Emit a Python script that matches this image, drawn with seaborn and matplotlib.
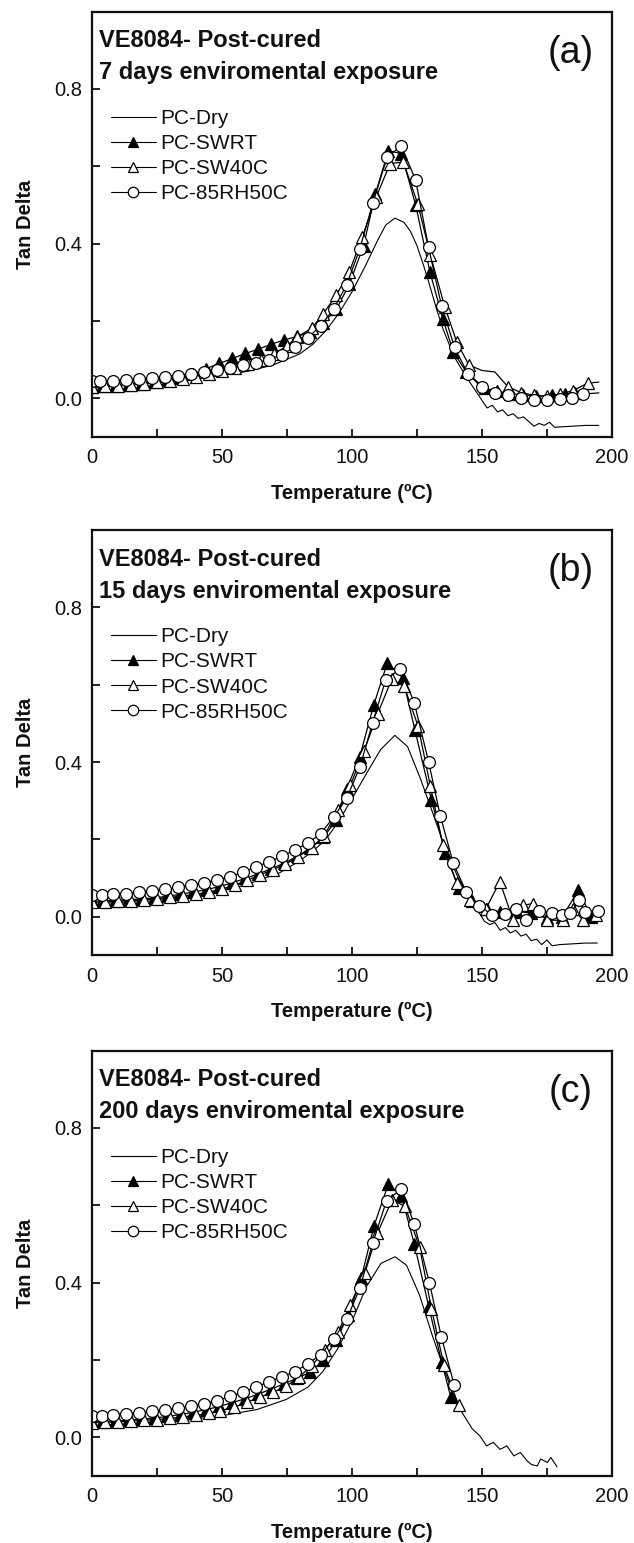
import matplotlib
matplotlib.use("Agg")
import matplotlib.pyplot as plt
from matplotlib.lines import Line2D
from matplotlib.ticker import MultipleLocator
import seaborn as sns

# ---- data ----
series_names = ["PC-Dry", "PC-SWRT", "PC-SW40C", "PC-85RH50C"]
panel_tags = ["(a)", "(b)", "(c)"]
exposure_days = ["7", "15", "200"]

# panel (a) - 7 days
dry_a_x = [0, 10, 20, 30, 40, 50, 60, 70, 80, 85, 90, 95, 100, 105, 110, 113, 116.5, 120, 122.5, 125,
           127.5, 130, 132.5, 135, 137.5, 140, 142.5, 145, 147.5, 150, 152, 154, 156, 158, 160, 162, 164,
           166, 168, 170, 172, 174, 176, 178, 180, 185, 190, 195]
dry_a_y = [0.028, 0.032, 0.037, 0.043, 0.050, 0.059, 0.070, 0.087, 0.115, 0.140, 0.175, 0.220, 0.275,
           0.340, 0.410, 0.448, 0.466, 0.455, 0.432, 0.395, 0.345, 0.29, 0.232, 0.18, 0.138, 0.1, 0.072,
           0.045, 0.02, -0.005, -0.025, -0.018, -0.035, -0.03, -0.045, -0.04, -0.052, -0.048, -0.06,
           -0.072, -0.065, -0.07, -0.062, -0.075, -0.074, -0.072, -0.07, -0.07]
swrt_a_x = [0, 4, 9, 14, 19, 24, 29, 34, 39, 44, 49, 54, 59, 64, 69, 74, 79, 84, 89, 94, 99, 104.5, 109,
            114, 119, 124.5, 130, 135, 139, 144, 151, 156, 161, 166, 171, 177, 182, 186]
swrt_a_y = [0.030, 0.031, 0.033, 0.035, 0.038, 0.042, 0.047, 0.053, 0.062, 0.077, 0.090, 0.103, 0.116,
            0.127, 0.140, 0.151, 0.160, 0.172, 0.195, 0.230, 0.295, 0.395, 0.528, 0.640, 0.633, 0.500,
            0.327, 0.205, 0.120, 0.068, 0.026, 0.018, 0.012, 0.009, 0.005, 0.009, 0.010, 0.015]
sw40_a_x = [0, 5, 10, 15, 20, 25, 30, 35, 40, 45, 50, 55, 60, 65, 70, 75, 79, 84.5, 89, 94, 99, 104,
            109.3, 114.7, 119.8, 125.3, 130.2, 135.7, 140.3, 145, 150, 155, 160, 165, 170, 175, 180, 185,
            190.7, 195]
sw40_a_y = [0.030, 0.031, 0.033, 0.035, 0.038, 0.041, 0.045, 0.050, 0.056, 0.063, 0.070, 0.078, 0.088,
            0.100, 0.115, 0.135, 0.159, 0.181, 0.219, 0.267, 0.327, 0.417, 0.520, 0.607, 0.611, 0.503,
            0.370, 0.237, 0.146, 0.086, 0.072, 0.068, 0.030, 0.015, 0.008, 0.005, 0.010, 0.020, 0.039,
            0.042]
sw40_a_lineonly = [150, 155, 195]
rh_a_x = [0, 3, 8, 13, 18, 23, 28, 33, 38, 43, 48, 53, 58, 63, 68, 73, 78, 83, 88, 93, 98, 103, 108,
          113.5, 119, 124.5, 129.5, 134.5, 139.5, 144.5, 150, 155, 160, 165, 170, 175, 180, 184.5, 189, 195]
rh_a_y = [0.046, 0.046, 0.046, 0.048, 0.050, 0.052, 0.055, 0.058, 0.063, 0.068, 0.072, 0.079, 0.085,
          0.092, 0.100, 0.113, 0.132, 0.156, 0.188, 0.231, 0.294, 0.386, 0.504, 0.623, 0.653, 0.564,
          0.390, 0.238, 0.132, 0.064, 0.028, 0.015, 0.008, 0.0, -0.005, -0.005, -0.002, 0.002, 0.011,
          0.014]
rh_a_lineonly = [195]

# panel (b) - 15 days
dry_b_x = [0, 16, 30, 44, 58, 72, 80, 85, 90, 95, 100, 106, 111, 116.5, 121.4, 126.3, 131.2, 136.1, 141,
           146.7, 151, 153, 155, 157, 159, 161, 163, 165, 167, 169, 171, 173, 175, 177, 180, 185, 190,
           194.4]
dry_b_y = [0.032, 0.040, 0.048, 0.060, 0.080, 0.113, 0.145, 0.170, 0.200, 0.248, 0.305, 0.375, 0.432,
           0.469, 0.44, 0.358, 0.266, 0.173, 0.099, 0.034, -0.012, -0.02, -0.015, -0.035, -0.028, -0.042,
           -0.035, -0.05, -0.045, -0.062, -0.058, -0.072, -0.06, -0.075, -0.072, -0.07, -0.068, -0.068]
swrt_b_x = [0, 4, 9, 14, 19, 24, 29, 34, 39, 44, 49, 54, 59, 64, 69, 74, 79, 84, 89, 94, 98, 103, 108.4,
            113.6, 119.5, 124.2, 130.6, 135.9, 141, 146, 152, 157, 163.3, 169, 174.9, 181, 187.1, 192]
swrt_b_y = [0.040, 0.041, 0.042, 0.044, 0.046, 0.049, 0.053, 0.058, 0.064, 0.070, 0.078, 0.088, 0.099,
            0.111, 0.124, 0.139, 0.156, 0.178, 0.205, 0.250, 0.330, 0.414, 0.548, 0.656, 0.618, 0.484,
            0.302, 0.164, 0.075, 0.040, 0.020, 0.012, 0.013, 0.010, -0.004, 0.0, 0.069, 0.0]
sw40_b_x = [0, 5, 10, 15, 20, 25, 30, 35, 40, 45, 50, 55, 59.6, 64.6, 69.5, 74.4, 79.3, 84.5, 89.4, 94.5,
            99.4, 104.6, 109.9, 115.3, 120.1, 125.5, 130.2, 135, 140.4, 145.4, 151.5, 156.9, 162, 166,
            169.7, 175, 181.3, 185, 189, 194]
sw40_b_y = [0.038, 0.039, 0.040, 0.042, 0.044, 0.047, 0.050, 0.054, 0.058, 0.064, 0.072, 0.082, 0.094,
            0.108, 0.122, 0.136, 0.155, 0.178, 0.210, 0.275, 0.340, 0.428, 0.525, 0.614, 0.596, 0.492,
            0.337, 0.186, 0.086, 0.043, 0.020, 0.091, -0.009, 0.030, 0.034, -0.009, -0.009, 0.020,
            -0.009, 0.005]
rh_b_x = [0, 4, 8, 13, 18, 23, 28, 33, 38, 43, 48, 53, 58, 63, 68, 73, 78, 83, 88, 93, 98, 103, 108,
          113, 118.6, 124, 129.5, 134, 139, 144, 149, 154, 159, 163, 167, 172, 177, 181, 184, 187.5,
          189.5, 194.5]
rh_b_y = [0.056, 0.056, 0.058, 0.060, 0.064, 0.067, 0.071, 0.076, 0.082, 0.088, 0.095, 0.104, 0.115,
          0.129, 0.142, 0.156, 0.173, 0.190, 0.215, 0.258, 0.307, 0.386, 0.502, 0.613, 0.641, 0.553,
          0.400, 0.261, 0.138, 0.064, 0.029, 0.004, 0.008, 0.020, -0.008, 0.015, 0.010, 0.005, 0.009,
          0.043, 0.013, 0.015]

# panel (c) - 200 days
dry_c_x = [0, 22.8, 36.8, 50.8, 63.5, 74.7, 83.1, 88.8, 94.4, 100, 105.6, 111.2, 116.6, 121, 126, 130.9,
           135.8, 140.7, 146.3, 149.2, 151.8, 154.4, 157, 159.6, 162.3, 164.8, 167.4, 169, 171.3, 172.6,
           175.2, 176.5, 178.9]
dry_c_y = [0.030, 0.037, 0.045, 0.057, 0.072, 0.098, 0.130, 0.170, 0.228, 0.300, 0.390, 0.450, 0.467,
           0.445, 0.368, 0.264, 0.169, 0.082, 0.022, 0.004, -0.022, -0.013, -0.031, -0.022, -0.048,
           -0.039, -0.061, -0.070, -0.074, -0.056, -0.065, -0.052, -0.076]
swrt_c_x = [0, 4, 9, 14, 19, 24, 29, 34, 39, 44, 49, 54, 59, 64, 69, 74, 79, 84, 89, 94, 98.6, 103.6,
            108.5, 114, 119, 124, 129.5, 134.5, 138]
swrt_c_y = [0.040, 0.041, 0.042, 0.044, 0.047, 0.050, 0.054, 0.059, 0.065, 0.072, 0.080, 0.090, 0.100,
            0.112, 0.125, 0.139, 0.153, 0.169, 0.199, 0.251, 0.317, 0.413, 0.547, 0.655, 0.625, 0.500,
            0.340, 0.195, 0.105]
sw40_c_x = [0, 5, 10, 15, 20, 25, 30, 35, 40, 45, 49.4, 54.8, 59.7, 64.6, 69.8, 74.7, 79.6, 84.5, 89.5,
            94.7, 99.3, 104.9, 109.8, 115.5, 120.4, 126, 130.6, 135.4, 141]
sw40_c_y = [0.038, 0.039, 0.040, 0.042, 0.044, 0.046, 0.049, 0.053, 0.057, 0.062, 0.069, 0.078, 0.091,
            0.104, 0.117, 0.132, 0.156, 0.185, 0.225, 0.272, 0.342, 0.424, 0.528, 0.615, 0.597, 0.493,
            0.333, 0.186, 0.084]
rh_c_x = [0, 4, 8, 13, 18, 23, 28, 33, 38, 43, 48, 53, 58, 63, 68, 73, 78, 83, 88, 93, 98, 103, 108,
          113.3, 119, 124, 129.8, 134.4, 139.3]
rh_c_y = [0.056, 0.056, 0.058, 0.061, 0.063, 0.067, 0.071, 0.075, 0.080, 0.087, 0.095, 0.106, 0.117,
          0.130, 0.144, 0.156, 0.170, 0.190, 0.214, 0.255, 0.305, 0.385, 0.502, 0.612, 0.642, 0.551,
          0.400, 0.260, 0.136]

panels = [
    [(dry_a_x, dry_a_y, []), (swrt_a_x, swrt_a_y, []), (sw40_a_x, sw40_a_y, sw40_a_lineonly), (rh_a_x, rh_a_y, rh_a_lineonly)],
    [(dry_b_x, dry_b_y, []), (swrt_b_x, swrt_b_y, []), (sw40_b_x, sw40_b_y, []), (rh_b_x, rh_b_y, [])],
    [(dry_c_x, dry_c_y, []), (swrt_c_x, swrt_c_y, []), (sw40_c_x, sw40_c_y, []), (rh_c_x, rh_c_y, [])],
]

# marker style per series: (marker, facecolor)
styles = [(None, "none"), ("^", "black"), ("^", "white"), ("o", "white")]

sns.set_style("ticks")
plt.rcParams["font.family"] = ["Liberation Sans", "DejaVu Sans"]
plt.rcParams["axes.linewidth"] = 1.6
plt.rcParams["text.color"] = "#111111"
plt.rcParams["axes.labelcolor"] = "#111111"
plt.rcParams["xtick.color"] = "#111111"
plt.rcParams["ytick.color"] = "#111111"

fig = plt.figure(figsize=(6.34, 15.43), dpi=100)
bottoms = [0.7168, 0.3808, 0.0434]

for i, series in enumerate(panels):
    ax = fig.add_axes([0.1451, bottoms[i], 0.820, 0.2757])
    for (x, y, lineonly), (mk, fc), name in zip(series, styles, series_names):
        if mk is None:
            sns.lineplot(x=x, y=y, ax=ax, color="black", linewidth=0.8, sort=False, estimator=None)
        else:
            every = [xi not in lineonly for xi in x]
            sns.lineplot(x=x, y=y, ax=ax, color="black", linewidth=0.9, sort=False, estimator=None,
                         marker=mk, markersize=8.5, markerfacecolor=fc, markeredgecolor="black",
                         markeredgewidth=0.9, markevery=every)

    ax.set_xlim(0, 200)
    ax.set_ylim(-0.1, 1.0)
    ax.xaxis.set_major_locator(MultipleLocator(50))
    ax.xaxis.set_minor_locator(MultipleLocator(25))
    ax.yaxis.set_major_locator(MultipleLocator(0.4))
    ax.yaxis.set_minor_locator(MultipleLocator(0.2))
    ax.tick_params(which="both", direction="in", length=6, width=1.3)
    ax.tick_params(axis="x", labelsize=14.5, pad=8)
    ax.tick_params(axis="y", labelsize=14.5, pad=7)
    ax.set_xlabel("Temperature (ºC)", fontsize=14.5, fontweight="bold", labelpad=12)
    ax.set_ylabel("Tan Delta", fontsize=14.5, fontweight="bold", labelpad=14)
    for sp in ax.spines.values():
        sp.set_visible(True)
        sp.set_color("#111111")

    ax.text(0.013, 0.931, "VE8084- Post-cured", transform=ax.transAxes, fontsize=17,
            fontweight="bold", ha="left", va="center")
    ax.text(0.013, 0.856, exposure_days[i] + " days enviromental exposure", transform=ax.transAxes,
            fontsize=17, fontweight="bold", ha="left", va="center")
    ax.text(0.921, 0.903, panel_tags[i], transform=ax.transAxes, fontsize=27, ha="center", va="center")

    handles = []
    for (mk, fc) in styles:
        handles.append(Line2D([], [], color="black", linewidth=0.8, marker=mk if mk else "",
                              markersize=7.5, markerfacecolor=fc, markeredgecolor="black",
                              markeredgewidth=0.9))
    ax.legend(handles, series_names, loc="upper left", bbox_to_anchor=(0.0365, 0.771), frameon=False,
              fontsize=15, handlelength=2.16, handletextpad=0.2, labelspacing=0.29, borderpad=0,
              borderaxespad=0)

fig.savefig("out.png", dpi=100)
